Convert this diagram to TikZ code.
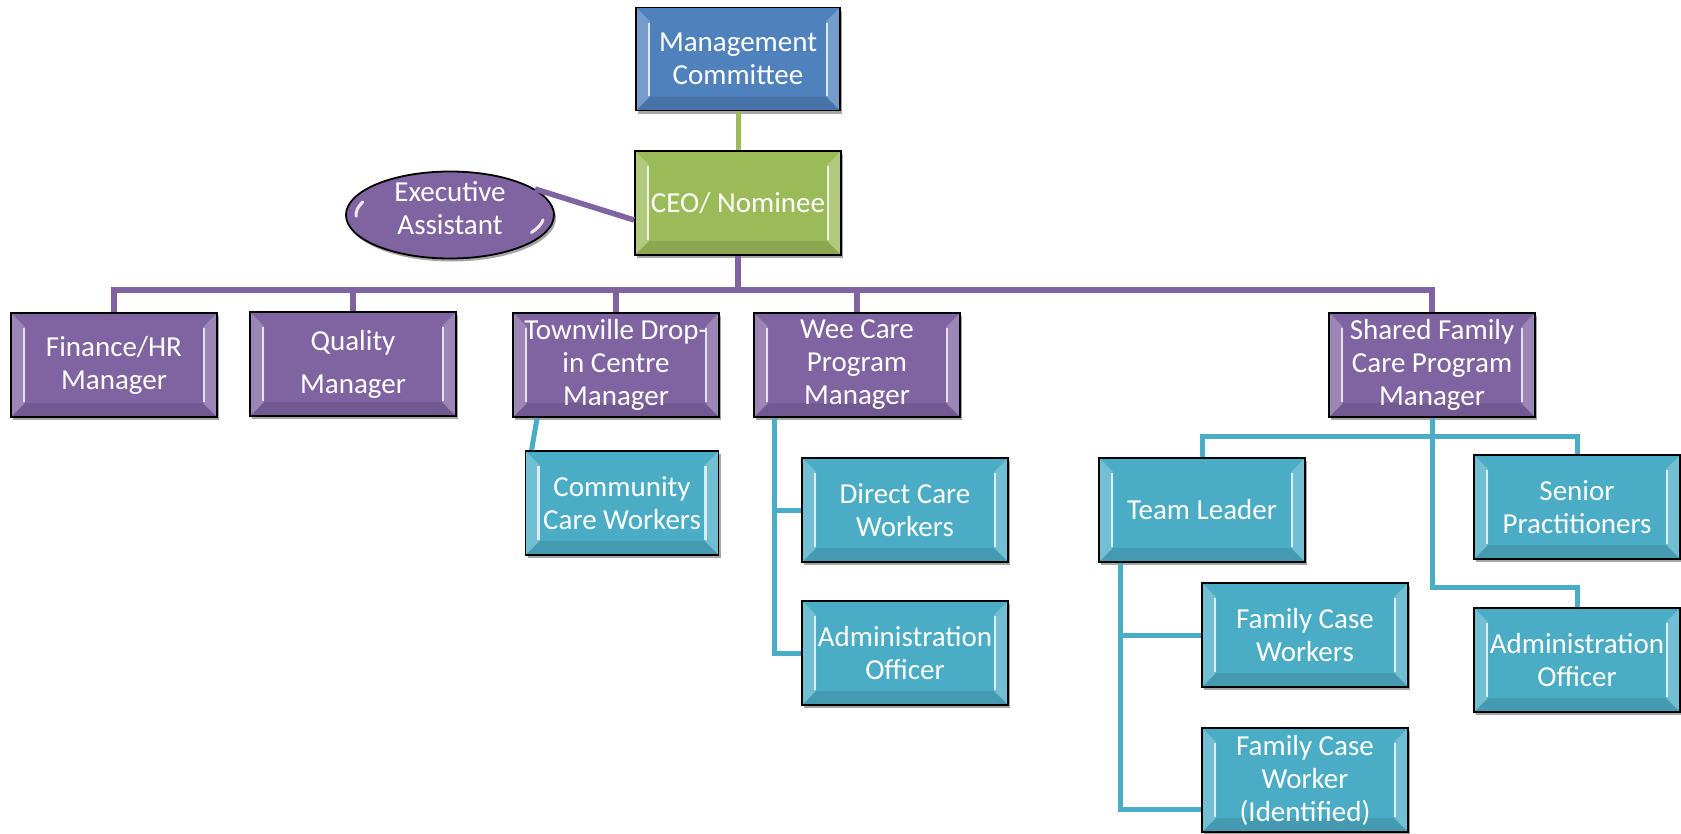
\documentclass[tikz,border=0pt]{standalone}
\usepackage{fontspec}
\setmainfont{Carlito}
\usetikzlibrary{shapes.geometric,shadows,calc}
\definecolor{cblue}{HTML}{4F81BD}
\definecolor{cgreen}{HTML}{9BBB59}
\definecolor{cpurple}{HTML}{8064A2}
\definecolor{cteal}{HTML}{4BACC6}
\newcommand\boxbevel{%
  \fill[white,opacity=.22] (path picture bounding box.north west) -- ++(14pt,-14pt) -- ($(path picture bounding box.south west)+(14pt,14pt)$) -- (path picture bounding box.south west) -- cycle;
  \fill[white,opacity=.22] (path picture bounding box.north east) -- ++(-14pt,-14pt) -- ($(path picture bounding box.south east)+(-14pt,14pt)$) -- (path picture bounding box.south east) -- cycle;
  \fill[black,opacity=.10] (path picture bounding box.south west) -- ++(14pt,14pt) -- ($(path picture bounding box.south east)+(-14pt,14pt)$) -- (path picture bounding box.south east) -- cycle;
  \draw[white,opacity=.75,line width=2.5pt] ($(path picture bounding box.north west)+(13pt,-15pt)$) -- ($(path picture bounding box.south west)+(13pt,15pt)$);
  \draw[white,opacity=.75,line width=2.5pt] ($(path picture bounding box.north east)+(-13pt,-15pt)$) -- ($(path picture bounding box.south east)+(-13pt,15pt)$);
}
\newcommand\ellbevel{%
  \draw[white,opacity=.85,line width=3pt,line cap=round] ($(path picture bounding box.center)+(158:94pt and 35pt)$) arc[start angle=158, end angle=182, x radius=94pt, y radius=35pt];
  \draw[white,opacity=.85,line width=3pt,line cap=round] ($(path picture bounding box.center)+(-8:94pt and 35pt)$) arc[start angle=-8, end angle=-30, x radius=94pt, y radius=35pt];
}
\tikzset{
  box/.style={rectangle, draw=black, line width=1.8pt, text=white, align=center,
    minimum width=206pt, minimum height=104pt, inner sep=0pt,
    font=\fontsize{29}{33}\selectfont,
    drop shadow={shadow xshift=2pt, shadow yshift=-3pt, opacity=.35, fill=black},
    path picture={\boxbevel}},
  pbox/.style={box, fill=cpurple},
  tbox/.style={box, fill=cteal},
  ell/.style={ellipse, draw=black, line width=1.8pt, fill=cpurple, text=white,
    minimum width=208pt, minimum height=87pt, inner sep=0pt,
    font=\fontsize{29}{33}\selectfont,
    drop shadow={shadow xshift=2pt, shadow yshift=-3pt, opacity=.35, fill=black},
    path picture={\ellbevel}},
  pline/.style={draw=cpurple, line width=5.5pt},
  tline/.style={draw=cteal, line width=5pt},
  gline/.style={draw=cgreen, line width=5pt},
}
\begin{document}
\begin{tikzpicture}[x=1pt,y=-1pt]
\useasboundingbox (0,0) rectangle (1681,833);
% nodes
\node[box, fill=cblue, minimum width=204pt, minimum height=103pt] (mc) at (738,59) {Management\\Committee};
\node[box, fill=cgreen] (ceo) at (738,203) {CEO/ Nominee};
\node[ell] (ea) at (450,215) {\raisebox{-2.5pt}[0pt][0pt]{\begin{tabular}{@{}c@{}}Executive\\Assistant\end{tabular}}};
\node[pbox] (fin) at (114,365) {Finance/HR\\Manager};
\node[pbox] (qm) at (353,364) {Quality\\[10pt]Manager};
\node[pbox] (tv) at (616,365) {Townville Drop-\\in Centre\\Manager};
\node[pbox] (wc) at (857,365) {Wee Care\\Program\\Manager};
\node[pbox] (sf) at (1432,365) {Shared Family\\Care Program\\Manager};
\node[tbox, minimum width=193pt] (cc) at (622,503) {Community\\Care Workers};
\node[tbox] (dc) at (905,510) {Direct Care\\Workers};
\node[tbox] (aw) at (905,653) {Administration\\Officer};
\node[tbox] (tl) at (1202,510) {Team Leader};
\node[tbox] (sp) at (1577,507) {Senior\\Practitioners};
\node[tbox] (fcw) at (1305,635) {Family Case\\Workers};
\node[tbox] (asf) at (1577,660) {Administration\\Officer};
\node[tbox] (fci) at (1305,780) {Family Case\\Worker\\(Identified)};
% connectors
\coordinate (bus) at (738,290);
\coordinate (sfbus) at (1432,436);
\coordinate (sfk) at (1432,587);
\draw[gline] (mc.south) -- (ceo.north);
\draw[pline] (ea.17) -- ($(ceo.west)+(0,17)$);
\draw[pline] (ceo.south) -- (bus);
\foreach \n in {fin,qm,tv,wc,sf} \draw[pline] (\n.north) |- (bus);
\draw[tline] ($(tv.south west)+(25,0)$) -- ($(cc.north west)+(7,0)$);
\draw[tline] ($(wc.south west)+(21,0)$) |- (dc.west);
\draw[tline] ($(wc.south west)+(21,0)$) |- (aw.west);
\draw[tline] (sf.south) -- (sfk) -| (asf.north);
\draw[tline] (tl.north) |- (sfbus);
\draw[tline] (sp.north) |- (sfbus);
\draw[tline] ($(tl.south west)+(22,0)$) |- (fcw.west);
\draw[tline] ($(tl.south west)+(22,0)$) |- ($(fci.west)+(0,29)$);
\end{tikzpicture}
\end{document}
